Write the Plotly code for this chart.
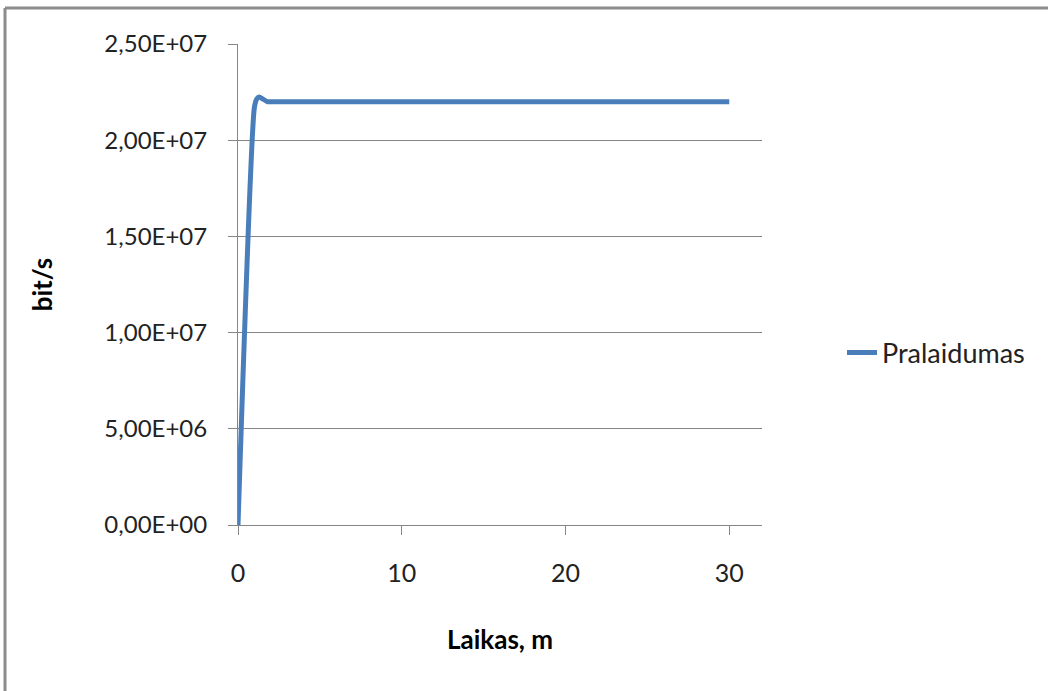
import plotly.graph_objects as go

# Data
time_min = [0, 1.0, 1.15, 1.3, 1.5, 1.8, 2, 3, 4, 5, 6, 7, 8, 9, 10, 11, 12, 13, 14, 15,
            16, 17, 18, 19, 20, 21, 22, 23, 24, 25, 26, 27, 28, 29, 30]
throughput = [0, 2.17e7, 2.215e7, 2.225e7, 2.215e7, 2.2e7] + [2.2e7] * 29
series_name = "Pralaidumas"

y_tick_vals = [0, 5e6, 1e7, 1.5e7, 2e7, 2.5e7]
y_tick_text = ["0,00E+00", "5,00E+06", "1,00E+07", "1,50E+07", "2,00E+07", "2,50E+07"]
x_tick_vals = [0, 10, 20, 30]
x_tick_text = ["0", "10", "20", "30"]

FONT = "Lato, Open Sans, sans-serif"
GRID = "#868686"

fig = go.Figure()
fig.add_trace(go.Scatter(
    x=time_min, y=throughput, mode="lines", name=series_name,
    line=dict(color="#4a7ebb", width=5, shape="spline", smoothing=0.6),
))

fig.update_layout(
    width=1048, height=691,
    margin=dict(l=238, r=286, t=44, b=166, autoexpand=False),
    paper_bgcolor="white", plot_bgcolor="white",
    font=dict(family=FONT, size=26, color="#222222"),
    showlegend=True,
    legend=dict(x=(842 - 238) / 524, y=(525 - 353) / 481, xanchor="left", yanchor="middle",
                font=dict(size=27, family=FONT, color="#222222"),
                bgcolor="rgba(0,0,0,0)", borderwidth=0),
    xaxis=dict(range=[0, 32], tickvals=x_tick_vals, ticktext=x_tick_text,
               showgrid=False, zeroline=False, showline=True, linecolor=GRID, linewidth=1,
               ticks="outside", ticklen=9, tickcolor=GRID, ticklabelstandoff=17,
               tickfont=dict(size=25),
               title=dict(text="<b>Laikas, m</b>", standoff=44, font=dict(size=26, family=FONT, color="#000"))),
    yaxis=dict(range=[0, 2.5e7], tickvals=y_tick_vals, ticktext=y_tick_text,
               showgrid=True, gridcolor=GRID, gridwidth=1, zeroline=False,
               showline=True, linecolor=GRID, linewidth=1,
               ticks="outside", ticklen=9, tickcolor=GRID, ticklabelstandoff=16,
               tickfont=dict(size=24),
               title=dict(text="<b>bit/s</b>", standoff=44, font=dict(size=26, family=FONT, color="#000"))),
    shapes=[
        dict(type="line", xref="paper", yref="paper",
             x0=(5 - 238) / 524, x1=(1060 - 238) / 524, y0=(525 - 8) / 481, y1=(525 - 8) / 481,
             line=dict(color="#8c8c8c", width=3)),
        dict(type="line", xref="paper", yref="paper",
             x0=(5 - 238) / 524, x1=(5 - 238) / 524, y0=(525 - 8) / 481, y1=(525 - 700) / 481,
             line=dict(color="#8c8c8c", width=3)),
    ],
)

fig.write_html("out.html", config={"displayModeBar": False},
               post_script="document.body.style.margin='0';")
